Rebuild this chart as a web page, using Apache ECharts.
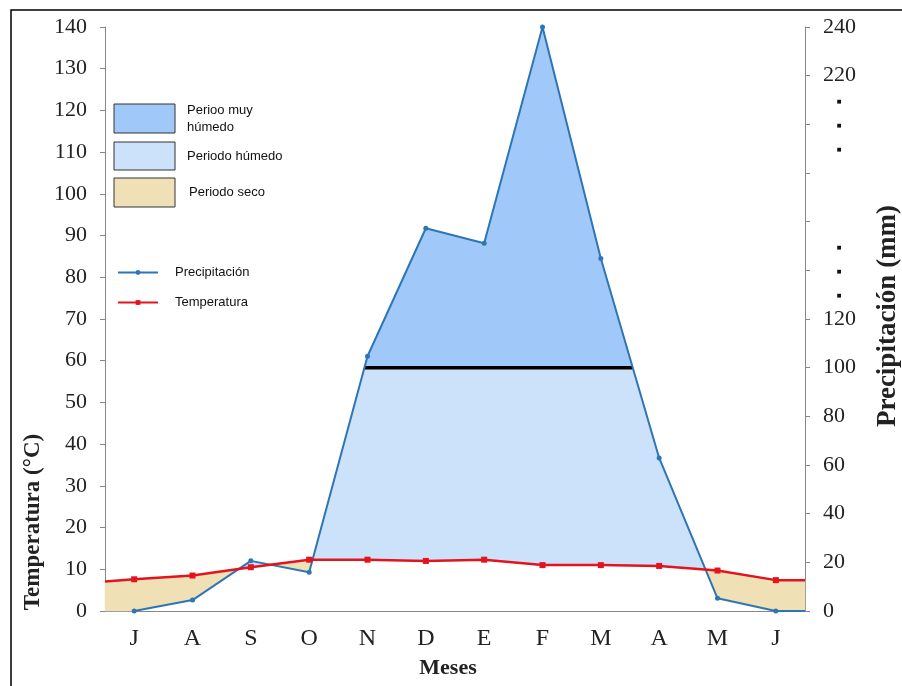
<!DOCTYPE html>
<html>
<head>
<meta charset="utf-8">
<script src="https://cdn.jsdelivr.net/npm/echarts@6/dist/echarts.min.js"></script>
<style>
html,body{margin:0;padding:0;background:#fff;}
#chart{width:902px;height:686px;}
</style>
</head>
<body>
<div id="chart"></div>
<script>
// ---- data ----
const months = ['J','A','S','O','N','D','E','F','M','A','M','J'];
const precipitacion = [0, 4.5, 20.6, 15.9, 104.7, 157.3, 151.1, 240, 144.9, 62.9, 5.2, 0]; // mm
const temperatura = [7.6, 8.5, 10.5, 12.3, 12.3, 12.0, 12.3, 11.0, 11.0, 10.8, 9.7, 7.4]; // °C
const tempEdges = [7.1, 7.4];      // temperature line at the start / end of the axis
const precipEnd = 0;               // precipitation line at the end of the axis
const umbralMuyHumedo = 100;       // mm
const tempTicks = {min: 0, max: 140, interval: 10};
const precTicks = {min: 0, max: 240, interval: 20};

// ---- derived ----
const k = precTicks.max / tempTicks.max; // °C -> mm on the paired axes
const baseX = [0].concat(months.map((m, i) => i + 0.5)).concat([months.length]);
const T = [tempEdges[0]].concat(temperatura).concat([tempEdges[1]]).map(v => v * k);
const P = [0].concat(precipitacion).concat([precipEnd]);
const H = umbralMuyHumedo;

const pts = [];
for (let i = 0; i < baseX.length - 1; i++) {
  const xa = baseX[i], xb = baseX[i + 1];
  const lerp = (arr, t) => arr[i] + (arr[i + 1] - arr[i]) * t;
  const ts = [0];
  const d1a = P[i] - T[i], d1b = P[i + 1] - T[i + 1];
  if (d1a * d1b < 0) ts.push(d1a / (d1a - d1b));
  const d2a = P[i] - H, d2b = P[i + 1] - H;
  if (d2a * d2b < 0) ts.push(d2a / (d2a - d2b));
  ts.sort((a, b) => a - b);
  if (i === baseX.length - 2) ts.push(1);
  ts.forEach(t => pts.push({x: xa + (xb - xa) * t, t: lerp(T, t), p: lerp(P, t)}));
}
// polygons (upper boundary, lower boundary) in data units of the mm axis
function band(list, upperFn, lowerFn) {
  const up = list.map(o => [o.x, upperFn(o)]);
  const lo = list.map(o => [o.x, lowerFn(o)]).reverse();
  return up.concat(lo);
}
const above = pts.filter(o => o.p >= H - 1e-9);
const secoPoly = band(pts, o => o.t, o => Math.min(o.p, o.t));
const humedoPoly = band(pts, o => Math.max(Math.min(o.p, H), o.t), o => o.t);
const muyPoly = band(above, o => o.p, o => H);
const umbralLine = [[above[0].x, H], [above[above.length - 1].x, H]];

const C_MUY = '#A0C9F9', C_HUM = '#CCE1FA', C_SECO = '#EFE1B5';
const C_PREC = '#2E75B6', C_TEMP = '#E3141E';
const SERIF = 'Liberation Serif', SANS = 'Liberation Sans';

function polySeries(name, poly, color) {
  return {
    name: name, type: 'custom', coordinateSystem: 'cartesian2d', xAxisIndex: 1, yAxisIndex: 1,
    data: [[0, 0]], silent: true, z: 1,
    renderItem: function (params, api) {
      return {
        type: 'polygon',
        shape: {points: poly.map(p => api.coord(p))},
        style: {fill: color, stroke: color, lineWidth: 0.5}
      };
    }
  };
}

const chart = echarts.init(document.getElementById('chart'));
chart.setOption({
  animation: false,
  grid: {left: 105, right: 97, top: 27, bottom: 75},
  legend: {
    data: ['Precipitación', 'Temperatura'],
    orient: 'vertical', left: 112, top: 261, itemWidth: 40, itemHeight: 6, itemGap: 17,
    textStyle: {fontFamily: SANS, fontSize: 13, color: '#111', padding: [0, 0, 0, 12]}
  },
  xAxis: [
    {
      type: 'category', data: months, boundaryGap: true,
      axisLine: {lineStyle: {color: '#888', width: 1}},
      axisTick: {alignWithLabel: true, length: 5, lineStyle: {color: '#888'}},
      axisLabel: {fontFamily: SERIF, fontSize: 24, color: '#222', margin: 16},
      name: 'Meses', nameLocation: 'middle', nameGap: 46,
      nameTextStyle: {fontFamily: SERIF, fontSize: 22, fontWeight: 'bold', color: '#222', padding: [0, 14, 0, 0]}
    },
    {type: 'value', min: 0, max: months.length, show: false}
  ],
  yAxis: [
    {
      type: 'value', position: 'left', min: tempTicks.min, max: tempTicks.max, interval: tempTicks.interval,
      axisLine: {show: true, lineStyle: {color: '#888'}},
      axisTick: {show: true, length: 5, lineStyle: {color: '#888'}},
      splitLine: {show: false},
      axisLabel: {fontFamily: SERIF, fontSize: 22, color: '#222', margin: 18}
    },
    {
      type: 'value', position: 'right', min: precTicks.min, max: precTicks.max, interval: precTicks.interval,
      axisLine: {show: true, lineStyle: {color: '#888'}},
      axisTick: {show: true, length: 5, lineStyle: {color: '#888'}},
      splitLine: {show: false},
      axisLabel: {
        fontFamily: SERIF, fontSize: 22, color: '#222', margin: 18,
        formatter: function (v) {
          if (v === 140 || v === 200) return '{d|■}\n{d|■}\n{d|■}';
          if (v > 120 && v < 220) return '';
          return String(v);
        },
        rich: {d: {fontSize: 5, lineHeight: 24, width: 32, align: 'center', color: '#111', fontFamily: 'DejaVu Sans', padding: [3, 0, 0, 0]}}
      }
    }
  ],
  graphic: [
    {type: 'rect', shape: {x: 11, y: 10, width: 900, height: 700}, style: {fill: 'none', stroke: '#000', lineWidth: 1.5}, z: 100},
    {type: 'text', x: 33, y: 522, rotation: Math.PI / 2,
     style: {text: 'Temperatura (°C)', font: 'bold 23px "Liberation Serif"', fill: '#222', textAlign: 'center', textVerticalAlign: 'middle'}},
    {type: 'text', x: 888, y: 316, rotation: Math.PI / 2,
     style: {text: 'Precipitación (mm)', font: 'bold 27px "Liberation Serif"', fill: '#222', textAlign: 'center', textVerticalAlign: 'middle'}},
    {type: 'rect', shape: {x: 114, y: 104, width: 61, height: 29}, style: {fill: C_MUY, stroke: '#333', lineWidth: 1}},
    {type: 'rect', shape: {x: 114, y: 142, width: 61, height: 28}, style: {fill: C_HUM, stroke: '#333', lineWidth: 1}},
    {type: 'rect', shape: {x: 114, y: 178, width: 61, height: 29}, style: {fill: C_SECO, stroke: '#333', lineWidth: 1}},
    {type: 'text', x: 187, y: 119, style: {text: 'Perioo muy\nhúmedo', font: '13px "Liberation Sans"', fill: '#111', lineHeight: 17, textVerticalAlign: 'middle'}},
    {type: 'text', x: 187, y: 156, style: {text: 'Periodo húmedo', font: '13px "Liberation Sans"', fill: '#111', textVerticalAlign: 'middle'}},
    {type: 'text', x: 189, y: 192, style: {text: 'Periodo seco', font: '13px "Liberation Sans"', fill: '#111', textVerticalAlign: 'middle'}}
  ],
  series: [
    polySeries('Periodo seco', secoPoly, C_SECO),
    polySeries('Periodo húmedo', humedoPoly, C_HUM),
    polySeries('Perioo muy húmedo', muyPoly, C_MUY),
    {
      name: 'umbral', type: 'line', xAxisIndex: 1, yAxisIndex: 1, data: umbralLine, symbol: 'none',
      lineStyle: {color: '#000', width: 3.5}, z: 3, silent: true
    },
    {
      name: 'Precipitación', type: 'line', xAxisIndex: 1, yAxisIndex: 1,
      data: precipitacion.map((v, i) => [i + 0.5, v]).concat([{value: [months.length, precipEnd], symbol: 'none'}]),
      symbol: 'circle', symbolSize: 5,
      lineStyle: {color: C_PREC, width: 2}, itemStyle: {color: C_PREC}, z: 4
    },
    {
      name: 'Temperatura', type: 'line', xAxisIndex: 1, yAxisIndex: 0,
      data: [{value: [0, tempEdges[0]], symbol: 'none'}]
        .concat(temperatura.map((v, i) => [i + 0.5, v]))
        .concat([{value: [months.length, tempEdges[1]], symbol: 'none'}]),
      symbol: 'rect', symbolSize: 6,
      lineStyle: {color: C_TEMP, width: 2.5}, itemStyle: {color: C_TEMP}, z: 5
    }
  ]
});
</script>
</body>
</html>
